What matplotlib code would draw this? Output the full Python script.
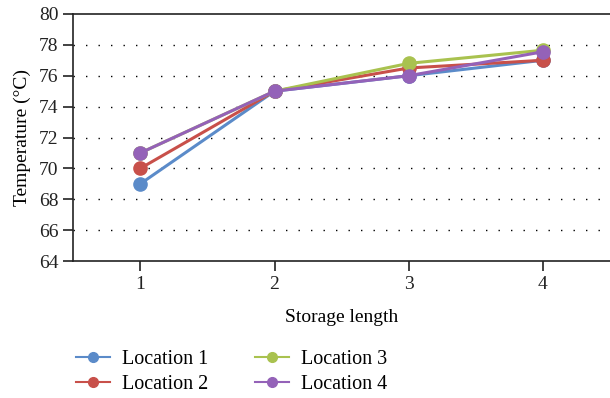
import matplotlib
matplotlib.use("Agg")
import matplotlib.pyplot as plt
from matplotlib.lines import Line2D

plt.rcParams['font.family'] = ['Liberation Serif', 'DejaVu Serif']

storage = [1, 2, 3, 4]
loc1 = [69.0, 75.0, 76.0, 77.0]
loc2 = [70.0, 75.0, 76.5, 77.0]
loc3 = [71.0, 75.0, 76.8, 77.65]
loc4 = [71.0, 75.0, 76.0, 77.55]
names = ['Location 1', 'Location 2', 'Location 3', 'Location 4']
colors = ['#5b8bc9', '#c8504a', '#a9c24f', '#9462b8']

fig = plt.figure(figsize=(6.1, 3.98), dpi=100)
ax = fig.add_axes([0.12, 0.344, 0.88, 0.621])

# draw order so purple ends on top like the original
for vals, c in [(loc1, colors[0]), (loc2, colors[1]), (loc3, colors[2]), (loc4, colors[3])]:
    ax.plot(storage, vals, color=c, lw=2.2, marker='o', ms=9.5, zorder=3)

ax.set_xlim(0.5, 4.5)
ax.set_ylim(64, 80)
ax.set_xticks(storage)
ax.set_yticks(range(64, 81, 2))
for y in range(66, 80, 2):
    ax.axhline(y, color='black', lw=1.0, ls=(0, (1, 8)), zorder=1)

ax.spines['right'].set_visible(False)
for s in ['left', 'top', 'bottom']:
    ax.spines[s].set_linewidth(1.2)
    ax.spines[s].set_color('#222222')
ax.tick_params(direction='out', length=7, width=1.2, labelsize=14, colors='#222222')
ax.set_xlabel('Storage length', fontsize=14, labelpad=12)
ax.set_ylabel('Temperature (°C)', fontsize=14, labelpad=6)

handles = [Line2D([], [], color=c, lw=1.5, marker='o', ms=7) for c in colors]
fig.legend(handles, names, loc='lower left', bbox_to_anchor=(0.095, -0.036), ncol=2,
           frameon=False, fontsize=14.5, handlelength=1.7, columnspacing=2.3,
           labelspacing=0.3, handletextpad=0.6)

fig.savefig('out.png', dpi=100)
